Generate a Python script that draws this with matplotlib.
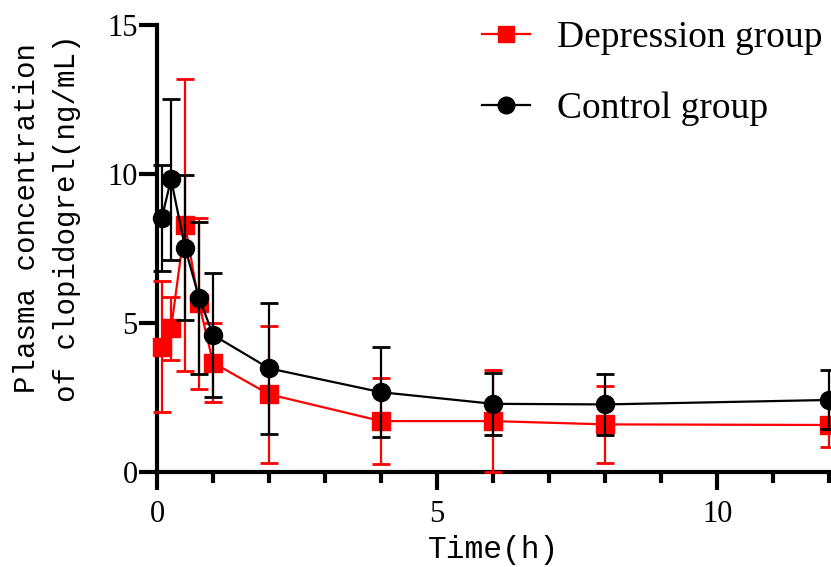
import matplotlib
matplotlib.use("Agg")
import matplotlib.pyplot as plt
from matplotlib.lines import Line2D

# time (h) and plasma concentration (ng/mL), mean and SD
time_h = [0.083, 0.25, 0.5, 0.75, 1, 2, 4, 6, 8, 12]
ctrl_mean = [8.51, 9.82, 7.52, 5.84, 4.59, 3.47, 2.67, 2.28, 2.26, 2.41]
ctrl_sd = [1.78, 2.70, 2.44, 2.55, 2.09, 2.21, 1.51, 1.03, 1.03, 0.99]
dep_mean = [4.20, 4.81, 8.28, 5.65, 3.66, 2.60, 1.70, 1.70, 1.59, 1.57]
dep_sd = [2.21, 1.05, 4.90, 2.88, 1.33, 2.29, 1.44, 1.72, 1.30, 0.73]

mono = "Liberation Mono"
serif = "Liberation Serif"

fig = plt.figure(figsize=(8.31, 5.67), dpi=100)
ax = fig.add_axes([0.189, 0.168, 0.809, 0.788])

ax.errorbar(time_h, dep_mean, yerr=dep_sd, color="#ff0000", marker="s",
            markersize=13, lw=1.6, elinewidth=1.6, capsize=6.5, capthick=2,
            clip_on=False, zorder=3)
ax.errorbar(time_h, ctrl_mean, yerr=ctrl_sd, color="black", marker="o",
            markersize=13, lw=1.6, elinewidth=1.6, capsize=6.5, capthick=2,
            clip_on=False, zorder=4)

ax.set_xlim(0, 12)
ax.set_ylim(0, 15)
ax.set_xticks([0, 5, 10])
ax.set_xticks(range(0, 13), minor=True)
ax.set_yticks([0, 5, 10, 15])

for s in ["top", "right"]:
    ax.spines[s].set_visible(False)
for s in ["left", "bottom"]:
    ax.spines[s].set_linewidth(3)

ax.tick_params(axis="both", which="major", direction="out", length=13, width=3,
               labelsize=22)
ax.tick_params(axis="x", which="major", pad=7)
ax.tick_params(axis="y", which="major", pad=1)
ax.tick_params(axis="x", which="minor", direction="out", length=8, width=3)
for lab in ax.get_xticklabels() + ax.get_yticklabels():
    lab.set_family(serif)

ax.set_xlabel("Time(h)", family=mono, fontsize=22.5, labelpad=5)
fig.text(0.0566, 0.6155, "Plasma concentration\nof clopidogrel(ng/mL)",
         family=mono, fontsize=21, linespacing=1.55, rotation=90,
         ha="center", va="center")

handles = [
    Line2D([], [], color="#ff0000", marker="s", markersize=12, lw=1.6),
    Line2D([], [], color="black", marker="o", markersize=12, lw=1.6),
]
leg = fig.legend(handles, ["Depression group", "Control group"],
                 loc="upper left", bbox_to_anchor=(0.539, 1.023), frameon=False,
                 prop={"family": serif, "size": 27}, handlelength=1.3,
                 handletextpad=0.72, labelspacing=0.96)

fig.savefig("out.png", dpi=100)
